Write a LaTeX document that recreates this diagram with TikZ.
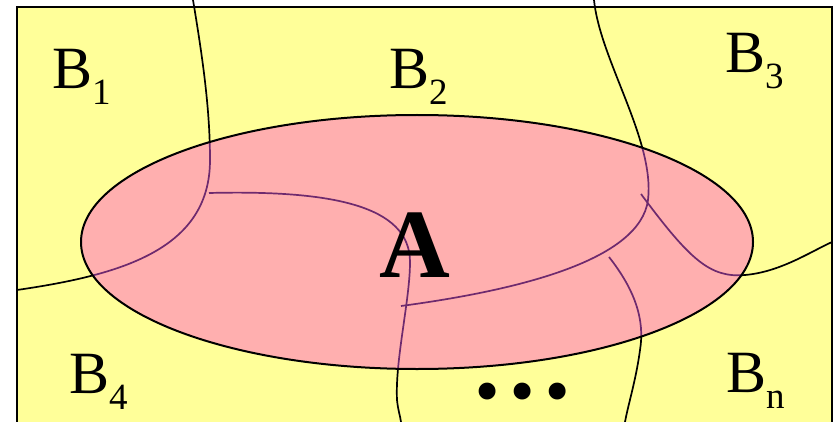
\documentclass[tikz,border=0pt]{standalone}
\usepackage{fontspec}
\setmainfont{Liberation Serif}
\definecolor{bgyellow}{HTML}{FFFF99}
\definecolor{setpink}{HTML}{FFAFAF}
\definecolor{innerpurple}{HTML}{6E2A6E}
\newcommand{\curveOne}{(193,0) .. controls (203,60) and (210,110) .. (210,160) .. controls (210,250) and (120,275) .. (17,290)}
\newcommand{\curveTwo}{(209,193) .. controls (330,190) and (410,205) .. (410,262) .. controls (410,300) and (395,360) .. (397,400) .. controls (398,410) and (400,415) .. (401,422)}
\newcommand{\curveThree}{(401,306) .. controls (520,290) and (640,260) .. (648,200) .. controls (655,140) and (600,60) .. (594,0)}
\newcommand{\curveFour}{(609,257) .. controls (635,290) and (645,320) .. (640,350) .. controls (636,380) and (628,405) .. (625,422)}
\newcommand{\curveFive}{(641,194) .. controls (690,260) and (710,278) .. (745,275) .. controls (780,272) and (810,252) .. (832,242)}
\newcommand{\subLow}[1]{\raisebox{-16pt}{\fontsize{37}{37}\selectfont #1}}
\begin{document}
\begin{tikzpicture}[x=1pt,y=-1pt,
  border/.style={line width=1.7pt,black},
  splitline/.style={line width=1.7pt,black},
  innerline/.style={line width=1.7pt,innerpurple},
  blabel/.style={inner sep=0pt,anchor=base west,font=\fontsize{60}{60}\selectfont}]
\useasboundingbox (0,0) rectangle (837,422);
\fill[bgyellow] (17,7) rectangle (832,422);
\draw[border] (17,422) -- (17,7) -- (832,7) -- (832,422);
% boundaries of the B regions
\draw[splitline] \curveOne;
\draw[splitline] \curveThree;
\draw[splitline] \curveFour;
\draw[splitline] \curveFive;
\draw[splitline] \curveTwo;
% set A
\coordinate (ctr) at (417,242);
\fill[setpink] (ctr) ellipse [x radius=336pt, y radius=127pt];
\begin{scope}
  \clip (ctr) ellipse [x radius=336pt, y radius=127pt];
  \draw[innerline] \curveOne;
  \draw[innerline] \curveTwo;
  \draw[innerline] \curveThree;
  \draw[innerline] \curveFour;
  \draw[innerline] \curveFive;
\end{scope}
\draw[line width=2pt] (ctr) ellipse [x radius=336pt, y radius=127pt];
% labels
\node[blabel] (b1) at (52,89) {B\subLow{1}};
\node[blabel] (b2) at (389,89) {B\subLow{2}};
\node[blabel] (b3) at (725,73) {B\subLow{3}};
\node[blabel] (b4) at (69,393) {B\subLow{4}};
\node[blabel] (bn) at (726,392) {B\subLow{n}};
\node[inner sep=0pt,anchor=base,font=\fontsize{98}{98}\selectfont\bfseries] (a) at (415,277) {A};
\node[inner sep=0pt,anchor=base,font=\fontsize{104}{104}\selectfont\bfseries] (dots) at (522,398) {…};
\end{tikzpicture}
\end{document}
